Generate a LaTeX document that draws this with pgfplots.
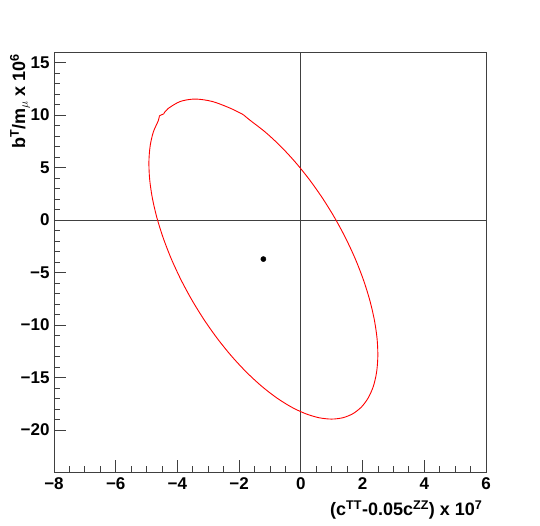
\documentclass[border=0pt]{standalone}
\usepackage{pgfplots}
\pgfplotsset{compat=1.18}
\usepackage{fontspec}
\setmainfont{Liberation Sans}
\begin{document}
\begin{tikzpicture}
\path[use as bounding box] (-54pt,-53pt) rectangle (486pt,472pt);
\begin{axis}[
  at={(0,0)}, anchor=south west,
  scale only axis, width=432pt, height=420pt,
  xmin=-8, xmax=6, ymin=-24, ymax=16,
  axis line style={black!75, line width=0.8pt},
  tick style={black!75, line width=0.8pt},
  xtick={-8,-6,-4,-2,0,2,4,6},
  xticklabels={{\textminus8},{\textminus6},{\textminus4},{\textminus2},0,2,4,6},
  ytick={-20,-15,-10,-5,0,5,10,15},
  yticklabels={{\textminus20},{\textminus15},{\textminus10},{\textminus5},0,5,10,15},
  minor x tick num=3, minor y tick num=4,
  tick pos=left, tick align=inside,
  major tick length=12pt, minor tick length=6pt,
  ticklabel style={font=\fontsize{17}{18}\selectfont\bfseries},
  xticklabel style={yshift=-2pt},
  yticklabel style={xshift=-1pt},
  clip=false,
]
\addplot[black!75, line width=0.8pt] coordinates {(-8,0) (6,0)};
\addplot[black!75, line width=0.8pt] coordinates {(0,-24) (0,16)};
% top cap
\addplot[red, line width=0.9pt, smooth] coordinates {
(-4.446,10.11) (-4.309,10.60) (-3.907,11.29) (-3.423,11.52) (-2.872,11.29) (-2.33,10.70) (-1.96,10.18) (-1.861,10.02)
};
% main contour
\addplot[red, line width=0.9pt, smooth] coordinates {
(-1.861,10.02) (-1.637,9.478) (-1.152,8.372) (-0.668,7.056) (-0.194,5.558) (0.263,3.90) (0.694,2.112) (1.093,0.224) (1.452,-1.731) (1.766,-3.72) (2.028,-5.709) (2.2355,-7.664) (2.384,-9.552) (2.471,-11.34) (2.494,-12.998) (2.454,-14.496) (2.352,-15.812) (2.1875,-16.918) (1.966,-17.80) (1.6895,-18.44) (1.363,-18.829) (0.993,-18.96) (0.585,-18.829) (0.1465,-18.44) (-0.316,-17.80) (-0.7935,-16.918) (-1.278,-15.812) (-1.762,-14.496) (-2.236,-12.998) (-2.693,-11.34) (-3.124,-9.552) (-3.523,-7.664) (-3.882,-5.709) (-4.196,-3.72) (-4.458,-1.731) (-4.666,0.224) (-4.814,2.112) (-4.901,3.90) (-4.924,5.558) (-4.884,7.056) (-4.782,8.372) (-4.618,9.478) (-4.585,9.92)
};
% left notch
\addplot[red, line width=0.9pt] coordinates {(-4.585,9.92) (-4.446,10.11)};
\addplot[only marks, mark=*, mark size=2.6pt, black] coordinates {(-1.215,-3.72)};
\node[anchor=east, font=\fontsize{18}{20}\selectfont\bfseries] at (rel axis cs:1,0) [yshift=-38pt] {(c$^{\mathbf{TT}}$-0.05c$^{\mathbf{ZZ}}$) x 10$^{\mathbf{7}}$};
\node[xshift=-34pt, yshift=2pt, rotate=90, anchor=east, font=\fontsize{18}{20}\selectfont\bfseries] at (rel axis cs:0,1) {b$^{\mathbf{T}}$/m$_{\mu}$ x 10$^{\mathbf{6}}$};
\end{axis}
\end{tikzpicture}
\end{document}
